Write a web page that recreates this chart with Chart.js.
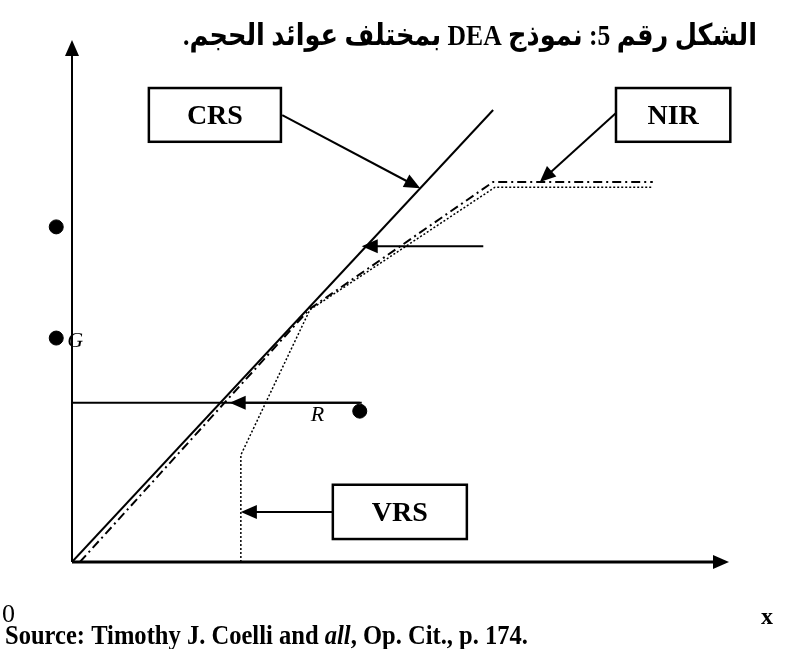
<!DOCTYPE html>
<html>
<head>
<meta charset="utf-8">
<script src="https://cdn.jsdelivr.net/npm/chart.js@4/dist/chart.umd.min.js"></script>
<style>
  body { margin: 0; background: #fff; }
  #wrap { width: 792px; height: 649px; position: relative; }
</style>
</head>
<body>
<div id="wrap"><canvas id="myChart"></canvas></div>
<script>
// frontiers (x = input, y = output, arbitrary units)
const crsX = [0, 6.41];
const crsY = [0, 8.66];
const nirX = [0.12, 3.62, 6.41, 8.84];
const nirY = [0, 4.85, 7.28, 7.28];
const vrsX = [2.57, 2.57, 3.62, 6.44, 8.84];
const vrsY = [0, 2.05, 4.83, 7.18, 7.18];

// firms
const firmX = [-0.24, -0.24, 4.38];
const firmY = [6.42, 4.29, 2.89];
const firmNames = ['', 'G', 'R'];

// projection of R onto the y axis
const projX = [0, 4.41];
const projY = [3.05, 3.05];

const toPts = (xs, ys) => xs.map((x, i) => ({ x: x, y: ys[i] }));

// boxes and arrows (data units)
const boxes = [
  { text: 'CRS', x1: 1.17, y1: 9.08, x2: 3.18, y2: 8.05 },
  { text: 'NIR', x1: 8.28, y1: 9.08, x2: 10.02, y2: 8.05 },
  { text: 'VRS', x1: 3.97, y1: 1.48, x2: 6.01, y2: 0.44 }
];
const arrows = [
  [3.20, 8.56, 5.30, 7.16],
  [8.28, 8.60, 7.12, 7.28],
  [6.26, 6.05, 4.41, 6.05],
  [4.38, 3.05, 2.40, 3.05],
  [3.97, 0.96, 2.57, 0.96]
];

function arrow(ctx, x1, y1, x2, y2, lw) {
  const a = Math.atan2(y2 - y1, x2 - x1);
  const L = 16, W = 7;
  ctx.lineWidth = lw;
  ctx.beginPath();
  ctx.moveTo(x1, y1);
  ctx.lineTo(x2 - Math.cos(a) * L * 0.8, y2 - Math.sin(a) * L * 0.8);
  ctx.stroke();
  ctx.beginPath();
  ctx.moveTo(x2, y2);
  ctx.lineTo(x2 - L * Math.cos(a) + W * Math.sin(a), y2 - L * Math.sin(a) - W * Math.cos(a));
  ctx.lineTo(x2 - L * Math.cos(a) - W * Math.sin(a), y2 - L * Math.sin(a) + W * Math.cos(a));
  ctx.closePath();
  ctx.fill();
}

// draw text squeezed horizontally so it spans w pixels from x
function fitText(ctx, text, x, y, w) {
  const k = w / ctx.measureText(text).width;
  ctx.save();
  ctx.translate(x, y);
  ctx.scale(k, 1);
  ctx.fillText(text, 0, 0);
  ctx.restore();
}

const drawing = {
  id: 'drawing',
  afterDatasetsDraw(chart) {
    const ctx = chart.ctx;
    const xs = chart.scales.x, ys = chart.scales.y;
    const px = v => xs.getPixelForValue(v), py = v => ys.getPixelForValue(v);
    ctx.save();
    ctx.strokeStyle = '#000';
    ctx.fillStyle = '#000';
    ctx.setLineDash([]);

    // axes
    arrow(ctx, px(0), py(0), px(10), py(0), 3);
    arrow(ctx, px(0), py(0), px(0), py(10), 2);

    // arrows
    arrows.forEach(a => arrow(ctx, px(a[0]), py(a[1]), px(a[2]), py(a[3]), 2));

    // boxes
    ctx.font = 'bold 28px "Liberation Serif"';
    ctx.textAlign = 'center';
    ctx.textBaseline = 'middle';
    boxes.forEach(b => {
      const x1 = px(b.x1), y1 = py(b.y1), x2 = px(b.x2), y2 = py(b.y2);
      ctx.fillStyle = '#fff';
      ctx.fillRect(x1, y1, x2 - x1, y2 - y1);
      ctx.lineWidth = 2.5;
      ctx.strokeRect(x1, y1, x2 - x1, y2 - y1);
      ctx.fillStyle = '#000';
      ctx.fillText(b.text, (x1 + x2) / 2, (y1 + y2) / 2 + 2);
    });

    // firm labels
    ctx.font = 'italic 22px "Liberation Serif"';
    ctx.textAlign = 'left';
    ctx.textBaseline = 'alphabetic';
    ctx.fillText(firmNames[1], px(firmX[1]) + 11, py(firmY[1]) + 9);
    ctx.fillText(firmNames[2], px(firmX[2]) - 49, py(firmY[2]) + 10);

    // axis labels
    ctx.font = '26px "Liberation Serif"';
    ctx.fillText('0', 2, 622);
    ctx.font = 'bold 24px "Liberation Serif"';
    ctx.fillText('x', 761, 624);

    // title (right edge at 757, spans ~574px)
    ctx.font = 'bold 30px "Liberation Serif", "DejaVu Sans"';
    ctx.direction = 'rtl';
    const title = 'الشكل رقم 5: نموذج DEA بمختلف عوائد الحجم.';
    ctx.save();
    const k = 574 / ctx.measureText(title).width;
    ctx.translate(757, 45);
    ctx.scale(k, 1);
    ctx.textAlign = 'right';
    ctx.fillText(title, 0, 0);
    ctx.restore();
    ctx.direction = 'ltr';

    // source, squeezed to ~523px
    ctx.textAlign = 'left';
    const parts = [
      ['bold 27px "Liberation Serif"', 'Source: Timothy J. Coelli and '],
      ['bold italic 27px "Liberation Serif"', 'all'],
      ['bold 27px "Liberation Serif"', ', Op. Cit., p. 174.']
    ];
    let total = 0;
    parts.forEach(p => { ctx.font = p[0]; total += ctx.measureText(p[1]).width; });
    const ks = 523 / total;
    let x = 5;
    parts.forEach(p => {
      ctx.font = p[0];
      const w = ctx.measureText(p[1]).width * ks;
      fitText(ctx, p[1], x, 644, w);
      x += w;
    });
    ctx.restore();
  }
};

const config = {
  type: 'scatter',
  data: {
    datasets: [{
      label: 'CRS',
      data: toPts(crsX, crsY),
      showLine: true,
      borderColor: '#000',
      borderWidth: 2,
      pointRadius: 0
    }, {
      label: 'NIR',
      data: toPts(nirX, nirY),
      showLine: true,
      borderColor: '#000',
      borderWidth: 2,
      borderDash: [9, 4, 2, 4],
      pointRadius: 0
    }, {
      label: 'VRS',
      data: toPts(vrsX, vrsY),
      showLine: true,
      borderColor: '#000',
      borderWidth: 1.5,
      borderDash: [2, 2],
      pointRadius: 0
    }, {
      label: 'R projection',
      data: toPts(projX, projY),
      showLine: true,
      borderColor: '#000',
      borderWidth: 2,
      pointRadius: 0
    }, {
      label: 'Firms',
      data: toPts(firmX, firmY),
      backgroundColor: '#000',
      borderColor: '#000',
      pointRadius: 7,
      clip: false
    }]
  },
  options: {
    responsive: true,
    maintainAspectRatio: false,
    animation: false,
    // x: 0 sits at 72px, 65.7px per unit; y: 0 at 562px, 52.2px per unit
    layout: { padding: { left: 72 - 0.5 * 65.7, right: 63, top: 40, bottom: 87 } },
    scales: {
      x: { type: 'linear', min: -0.5, max: 10, display: false },
      y: { type: 'linear', min: 0, max: 10, display: false }
    },
    plugins: {
      legend: { display: false },
      tooltip: { enabled: false }
    }
  },
  plugins: [drawing]
};

const myChart = new Chart(document.getElementById('myChart'), config);
</script>
</body>
</html>
